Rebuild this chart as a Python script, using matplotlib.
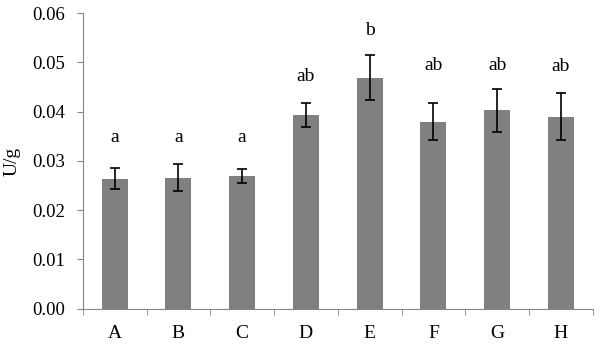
import numpy as np
import matplotlib
matplotlib.use('Agg')
from matplotlib import pyplot as plt

groups = ['A', 'B', 'C', 'D', 'E', 'F', 'G', 'H']
means = [0.0264, 0.0266, 0.0269, 0.0393, 0.0469, 0.0380, 0.0403, 0.0390]
errors = [0.0021, 0.0027, 0.0014, 0.0025, 0.0045, 0.0038, 0.0044, 0.0048]
letters = ['a', 'a', 'a', 'ab', 'b', 'ab', 'ab', 'ab']
letter_y = [0.0339, 0.0339, 0.0339, 0.0462, 0.0555, 0.0485, 0.0485, 0.0482]

plt.rcParams['font.family'] = ['Liberation Serif', 'DejaVu Serif']
axis_grey = '#868686'

fig = plt.figure(figsize=(6, 3.45), dpi=100)
ax = fig.add_axes([0.138, 0.105, 0.85, 0.857])

x = np.arange(len(groups))
ax.bar(x, means, width=0.41, color='#808080', zorder=2)
ax.errorbar(x, means, yerr=errors, fmt='none', ecolor='black',
            elinewidth=1.2, capsize=3.8, capthick=1.2, zorder=3)

for xi, lab, ly in zip(x, letters, letter_y):
    ax.text(xi, ly, lab, ha='center', va='baseline', fontsize=14)

ax.set_xlim(-0.5, len(groups) - 0.5)
ax.set_ylim(0, 0.06)
ax.set_yticks(np.arange(0, 0.061, 0.01))
ax.set_yticklabels(['%.2f' % v for v in np.arange(0, 0.061, 0.01)])
ax.set_xticks(x)
ax.set_xticklabels(groups)
ax.set_xticks(np.arange(-0.5, len(groups)), minor=True)
ax.tick_params(axis='x', which='major', length=0, pad=12, labelsize=14)
ax.tick_params(axis='x', which='minor', length=4, color=axis_grey, direction='out')
ax.tick_params(axis='y', length=4, color=axis_grey, labelsize=13.5, pad=9)

for s in ['top', 'right']:
    ax.spines[s].set_visible(False)
for s in ['left', 'bottom']:
    ax.spines[s].set_color(axis_grey)

ax.set_ylabel('U/g', fontsize=14, labelpad=8)

fig.savefig('out.png', dpi=100)
